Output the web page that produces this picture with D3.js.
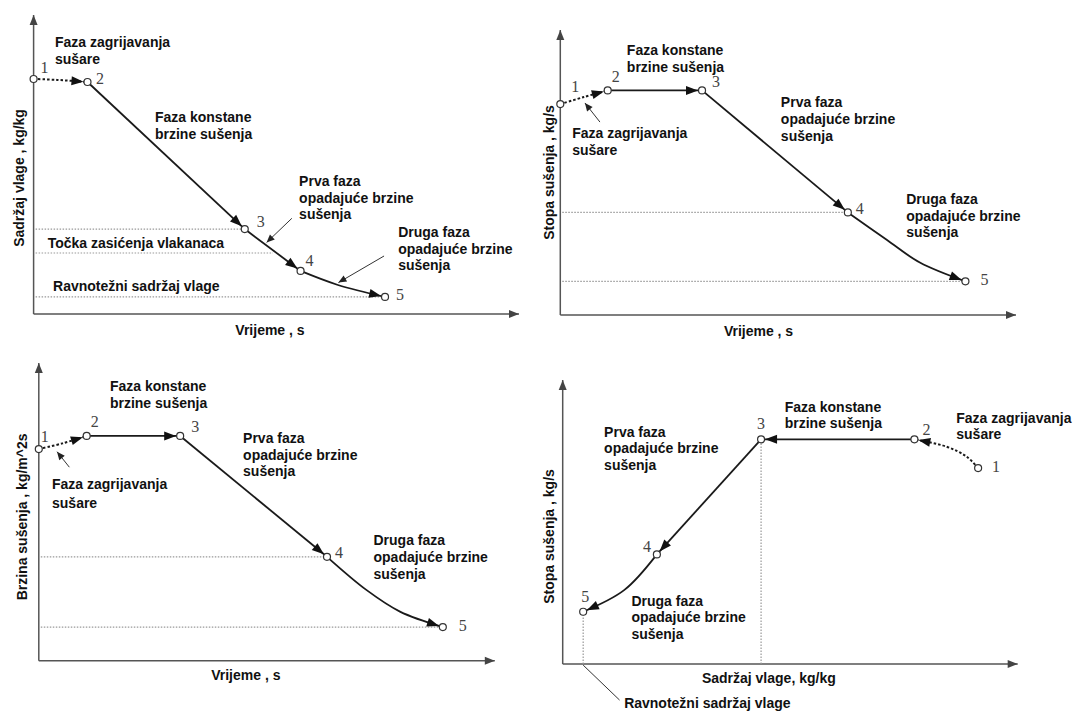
<!DOCTYPE html>
<html>
<head>
<meta charset="utf-8">
<script src="https://cdn.jsdelivr.net/npm/d3@7"></script>
<style>
  body { margin: 0; background: #fff; }
  .note { font-family: "Liberation Sans", Arial, sans-serif; font-weight: bold; font-size: 14px; fill: #111; }
  .num { font-family: "Liberation Serif", "Times New Roman", serif; font-size: 16px; fill: #444; }
</style>
</head>
<body>
<svg id="chart" width="1075" height="711"></svg>
<script>
// stage numbers, same in every panel
var stages = ["1", "2", "3", "4", "5"];

// panel 1 - moisture content vs time (0..100 units on both axes)
var moistT = [0, 11.1, 43.5, 55.0, 72.4];
var moistM = [78.6, 77.6, 28.4, 14.4, 5.7];
var moistBends = [[[4.8, 78.3]], [], [], [[62.7, 9.7]]];
var moistRefM = [28.4, 20.4, 5.7];
var moistRefEnd = [43.5, 49.3, 72.4];

// panel 2 - drying rate vs time
var rateT = [0, 10.4, 31.1, 63.1, 88.9];
var rateR = [74.0, 78.8, 78.8, 36.0, 11.8];
var rateBends = [[[5.2, 76.5]], [], [], [[71.7, 26.3], [78.9, 18.4]]];
var rateRefR = [36.0, 11.8];
var rateRefEnd = [63.1, 88.9];

// panel 3 - drying flux vs time
var fluxT = [0, 10.5, 31.0, 63.2, 88.6];
var fluxR = [71.1, 75.5, 75.5, 34.9, 11.3];
var fluxBends = [[[5.2, 73.0]], [], [], [[71.9, 23.7], [79.2, 16.5]]];
var fluxRefR = [34.9, 11.3];
var fluxRefEnd = [63.2, 88.6];

// panel 4 - drying rate vs moisture content
var curveM = [91.3, 77.3, 43.6, 20.7, 4.5];
var curveR = [69.0, 79.1, 79.1, 38.6, 18.4];
var curveBends = [[[88.8, 73.0], [84.4, 76.5]], [], [], [[13.5, 26.0]]];
var curveRefM = [43.6, 4.5];
var curveRefTop = [79.1, 18.4];

// texts
var noteHeat = ["Faza zagrijavanja", "sušare"];
var noteConst = ["Faza konstane", "brzine sušenja"];
var noteFirst = ["Prva faza", "opadajuće brzine", "sušenja"];
var noteSecond = ["Druga faza", "opadajuće brzine", "sušenja"];
var noteFsp = ["Točka zasićenja vlakanaca"];
var noteEmc = ["Ravnotežni sadržaj vlage"];
var titlesX = ["Vrijeme , s", "Vrijeme , s", "Vrijeme , s", "Sadržaj vlage, kg/kg"];
var titlesY = ["Sadržaj vlage , kg/kg", "Stopa sušenja , kg/s", "Brzina sušenja , kg/m^2s", "Stopa sušenja , kg/s"];

// layout of each panel
var panels = [
  {
    frame: { x0: 33.6, x1: 519, y0: 314, y1: 15 },
    xs: moistT, ys: moistM, bends: moistBends,
    hRefs: moistRefM.map(function (v, i) { return { y: v, end: moistRefEnd[i] }; }),
    vRefs: [],
    numOff: [[11, -11], [12.5, -3], [16, -8], [9, -10], [15, -2]],
    notes: [
      { text: noteHeat, at: [4.4, 91.0] },
      { text: noteConst, at: [25.0, 65.9] },
      { text: noteFirst, at: [54.7, 44.5] },
      { text: noteFsp, at: [2.9, 23.7] },
      { text: noteSecond, at: [75.1, 27.4] },
      { text: noteEmc, at: [4.0, 9.4] }
    ],
    pointers: [[[53.2, 32.0], [48.0, 23.9]], [[72.2, 19.4], [62.8, 10.5]]],
    xTitle: { at: 48.7, dy: 16 },
    yTitle: { dx: -14.6, at: 45.5 }
  },
  {
    frame: { x0: 560.3, x1: 1016, y0: 315, y1: 30 },
    xs: rateT, ys: rateR, bends: rateBends,
    hRefs: rateRefR.map(function (v, i) { return { y: v, end: rateRefEnd[i] }; }),
    vRefs: [],
    numOff: [[15, -18], [8, -14], [14, -9], [12, -4], [19, -2]],
    notes: [
      { text: noteConst, at: [14.6, 93.0] },
      { text: noteHeat, at: [2.6, 63.9] },
      { text: noteFirst, at: [48.4, 74.7] },
      { text: noteSecond, at: [75.9, 40.7] }
    ],
    pointers: [[[8.7, 67.7], [5.4, 74.4]]],
    xTitle: { at: 43.5, dy: 16 },
    yTitle: { dx: -11.3, at: 50 }
  },
  {
    frame: { x0: 38.8, x1: 494.8, y0: 660.7, y1: 363 },
    xs: fluxT, ys: fluxR, bends: fluxBends,
    hRefs: fluxRefR.map(function (v, i) { return { y: v, end: fluxRefEnd[i] }; }),
    vRefs: [],
    numOff: [[6, -13], [8, -14], [15, -9], [12, -4], [20, -2]],
    notes: [
      { text: noteConst, at: [15.6, 92.3] },
      { text: noteHeat, at: [2.9, 59.4], lh: 19 },
      { text: noteFirst, at: [44.8, 74.8] },
      { text: noteSecond, at: [73.4, 40.5] }
    ],
    pointers: [[[6.7, 65.0], [4.0, 70.2]]],
    xTitle: { at: 45.4, dy: 14.3 },
    yTitle: { dx: -17.3, at: 48.3 }
  },
  {
    frame: { x0: 562.7, x1: 1017.7, y0: 664, y1: 380 },
    xs: curveM, ys: curveR, bends: curveBends,
    hRefs: [],
    vRefs: curveRefM.map(function (v, i) { return { x: v, top: curveRefTop[i] }; }),
    numOff: [[18, -2], [12, -10], [0, -16], [-10, -8], [2, -15]],
    notes: [
      { text: noteConst, at: [48.8, 90.6] },
      { text: noteHeat, at: [86.5, 86.7] },
      { text: noteFirst, at: [9.1, 81.8] },
      { text: noteSecond, at: [15.1, 22.3] },
      { text: noteEmc, at: [13.5, -13.8] }
    ],
    pointers: [],
    leader: [[4.5, -0.4], [12.5, -12.7]],
    xTitle: { at: 45.3, dy: 14.3 },
    yTitle: { dx: -13.7, at: 44.9 }
  }
];

var svg = d3.select("#chart");

// filled triangle with its tip at the end of a path
function arrowHead(g, pathNode, back, len, half, color) {
  var L = pathNode.getTotalLength();
  var tip = pathNode.getPointAtLength(Math.max(0, L - back));
  var base = pathNode.getPointAtLength(Math.max(0, L - back - len));
  var dx = tip.x - base.x, dy = tip.y - base.y;
  var n = Math.sqrt(dx * dx + dy * dy) || 1;
  var ux = dx / n, uy = dy / n;
  var bx = tip.x - ux * len, by = tip.y - uy * len;
  g.append("path")
    .attr("d", "M" + tip.x + "," + tip.y +
      "L" + (bx - uy * half) + "," + (by + ux * half) +
      "L" + (bx + uy * half) + "," + (by - ux * half) + "Z")
    .style("fill", color);
}

panels.forEach(function (p, k) {
  var f = p.frame;
  var x = d3.scaleLinear().domain([0, 100]).range([f.x0, f.x1]);
  var y = d3.scaleLinear().domain([0, 100]).range([f.y0, f.y1]);
  var g = svg.append("g").attr("class", "panel");

  // axes with arrow tips
  var axisLine = d3.line().x(function (d) { return x(d[0]); }).y(function (d) { return y(d[1]); });
  [[[0, 0], [100, 0]], [[0, 0], [0, 100]]].forEach(function (a) {
    var ax = g.append("path")
      .attr("d", axisLine(a))
      .style("fill", "none")
      .style("stroke", "#555")
      .style("stroke-width", 1.5);
    arrowHead(g, ax.node(), 0, 10, 4, "#444");
  });

  // dotted reference lines
  p.hRefs.forEach(function (r) {
    g.append("line")
      .attr("x1", x(0) + 2).attr("x2", x(r.end))
      .attr("y1", y(r.y)).attr("y2", y(r.y))
      .style("stroke", "#999").style("stroke-width", 1.2)
      .style("stroke-dasharray", "1.5,1.5");
  });
  p.vRefs.forEach(function (r) {
    g.append("line")
      .attr("x1", x(r.x)).attr("x2", x(r.x))
      .attr("y1", y(0)).attr("y2", y(r.top))
      .style("stroke", "#999").style("stroke-width", 1.2)
      .style("stroke-dasharray", "1.5,1.5");
  });
  if (p.leader) {
    g.append("path")
      .attr("d", axisLine(p.leader))
      .style("stroke", "#333").style("stroke-width", 1).style("fill", "none");
  }

  // drying path, one segment per phase
  for (var i = 0; i < 4; i++) {
    var pts = [[p.xs[i], p.ys[i]]].concat(p.bends[i], [[p.xs[i + 1], p.ys[i + 1]]]);
    var line = d3.line()
      .x(function (d) { return x(d[0]); })
      .y(function (d) { return y(d[1]); })
      .curve(pts.length > 2 ? d3.curveCatmullRom.alpha(0.5) : d3.curveLinear);
    var seg = g.append("path")
      .attr("d", line(pts))
      .style("fill", "none")
      .style("stroke", "#1a1a1a")
      .style("stroke-width", i === 0 ? 2 : 1.8)
      .style("stroke-dasharray", i === 0 ? "2.5,2" : null);
    arrowHead(g, seg.node(), 4, 12, 4.5, "#111");
  }

  // stage markers and numbers
  g.selectAll("circle.stage")
    .data(stages)
    .enter().append("circle")
    .attr("class", "stage")
    .attr("cx", function (d, i) { return x(p.xs[i]); })
    .attr("cy", function (d, i) { return y(p.ys[i]); })
    .attr("r", 3.5)
    .style("fill", "#fff")
    .style("stroke", "#333")
    .style("stroke-width", 1.2);

  g.selectAll("text.num")
    .data(stages)
    .enter().append("text")
    .attr("class", "num")
    .attr("x", function (d, i) { return x(p.xs[i]) + p.numOff[i][0]; })
    .attr("y", function (d, i) { return y(p.ys[i]) + p.numOff[i][1]; })
    .attr("text-anchor", "middle")
    .attr("dominant-baseline", "central")
    .text(function (d) { return d; });

  // phase notes
  p.notes.forEach(function (n) {
    var t = g.append("text").attr("class", "note");
    n.text.forEach(function (s, j) {
      t.append("tspan")
        .attr("x", x(n.at[0]))
        .attr("y", y(n.at[1]) + j * (n.lh || 16.7))
        .attr("dominant-baseline", "central")
        .text(s);
    });
  });

  // thin pointer arrows
  p.pointers.forEach(function (pt) {
    var pl = g.append("path")
      .attr("d", axisLine(pt))
      .style("stroke", "#333").style("stroke-width", 1).style("fill", "none");
    arrowHead(g, pl.node(), 0, 8, 3.5, "#222");
  });

  // axis titles
  g.append("text")
    .attr("class", "note")
    .attr("x", x(p.xTitle.at))
    .attr("y", y(0) + p.xTitle.dy)
    .attr("text-anchor", "middle")
    .attr("dominant-baseline", "central")
    .text(titlesX[k]);

  g.append("text")
    .attr("class", "note")
    .attr("transform", "translate(" + (x(0) + p.yTitle.dx) + "," + y(p.yTitle.at) + ") rotate(-90)")
    .attr("text-anchor", "middle")
    .attr("dominant-baseline", "central")
    .text(titlesY[k]);
});
</script>
</body>
</html>
